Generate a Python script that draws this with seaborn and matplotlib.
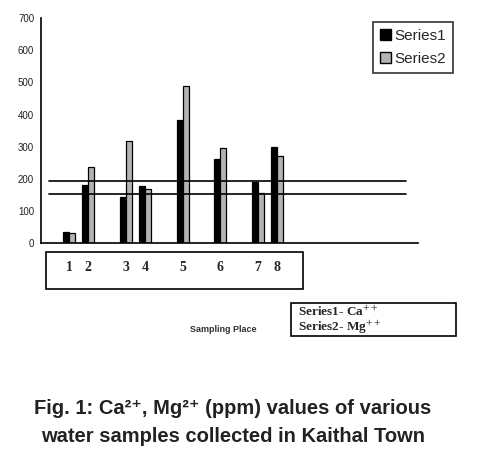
import numpy as np
import pandas as pd
import seaborn as sns
import matplotlib.pyplot as plt
import matplotlib.transforms as mtransforms
from matplotlib.patches import Patch, Rectangle

# slots along the x axis (20 category slots, data sits in a few of them)
n_slots = 20
slot_pos = [1, 2, 4, 5, 7, 9, 11, 12]
site_labels = ['1', '2', '3', '4', '5', '6', '7', '8']
series1 = [35, 180, 142, 178, 383, 261, 191, 298]   # Ca++
series2 = [30, 238, 318, 168, 490, 297, 157, 271]   # Mg++
limit_lines = [193, 152]

sns.set_style('white')
plt.rcParams['font.family'] = ['Liberation Sans', 'DejaVu Sans']
plt.rcParams['mathtext.fontset'] = 'stix'

df = pd.DataFrame({
    'slot': [str(p) for p in slot_pos] * 2,
    'value': series1 + series2,
    'serie': ['Series1'] * len(series1) + ['Series2'] * len(series2),
})

fig = plt.figure(figsize=(4.78, 4.55), dpi=100)
ax = fig.add_axes([0.086, 0.466, 0.789, 0.494])

sns.barplot(data=df, x='slot', y='value', hue='serie',
            order=[str(i) for i in range(n_slots)],
            palette={'Series1': '#000000', 'Series2': '#b3b3b3'},
            width=0.64, edgecolor='black', linewidth=0.9,
            legend=False, ax=ax)

# limit lines
for v in limit_lines:
    ax.axhline(v, xmin=0.02, xmax=0.968, color='black', lw=1.2)

ax.set_xlim(-0.5, n_slots - 0.5)
ax.set_ylim(0, 700)
ax.set_yticks(range(0, 701, 100))
ax.set_xticks(np.arange(-0.5, n_slots, 1))
ax.set_xticklabels([])
ax.set_xlabel('')
ax.set_ylabel('')
ax.tick_params(axis='both', direction='out', length=3, width=1, color='black')
ax.tick_params(axis='y', labelsize=7, pad=2, labelcolor='#222222')
for s in ['top', 'right']:
    ax.spines[s].set_visible(False)
for s in ['left', 'bottom']:
    ax.spines[s].set_color('black')
    ax.spines[s].set_linewidth(1.2)

# site numbers in a box under the axis
trans = mtransforms.blended_transform_factory(ax.transData, ax.transAxes)
for p, lab in zip(slot_pos, site_labels):
    ax.text(p, -0.111, lab, transform=trans, ha='center', va='center',
            fontsize=10, fontweight='bold', family='Liberation Serif')
fig.patches.append(Rectangle((46 / 478, 1 - 289 / 455), 257 / 478, 37 / 455,
                             transform=fig.transFigure, fill=False,
                             edgecolor='black', lw=1.2))

# legend
handles = [Patch(facecolor='#000000', edgecolor='black', label='Series1'),
           Patch(facecolor='#b3b3b3', edgecolor='black', label='Series2')]
leg = fig.legend(handles=handles, loc='upper left',
                 bbox_to_anchor=(373 / 478, 1 - 22 / 455),
                 frameon=True, fancybox=False, fontsize=11,
                 handlelength=0.7, handleheight=0.7, handletextpad=0.25,
                 borderpad=0.45, labelspacing=0.6, borderaxespad=0)
leg.get_frame().set_edgecolor('black')
leg.get_frame().set_linewidth(1.2)

# x label and series description box
fig.text(223 / 478, 1 - 329 / 455, 'Sampling Place', fontsize=6.5,
         fontweight='bold', ha='center', va='center', color='#333333')
fig.patches.append(Rectangle((291 / 478, 1 - 336 / 455), 165 / 478, 33 / 455,
                             transform=fig.transFigure, fill=False,
                             edgecolor='black', lw=1.2))
fig.text(298 / 478, 1 - 312 / 455, 'Series1- Ca$^{++}$', fontsize=9.5,
         fontweight='bold', family='Liberation Serif', ha='left', va='center')
fig.text(298 / 478, 1 - 327 / 455, 'Series2- Mg$^{++}$', fontsize=9.5,
         fontweight='bold', family='Liberation Serif', ha='left', va='center')

# caption
fig.text(233 / 478, 1 - 408 / 455, 'Fig. 1: Ca²⁺, Mg²⁺ (ppm) values of various',
         fontsize=14.5, fontweight='bold', color='#222222', ha='center', va='center')
fig.text(233 / 478, 1 - 437 / 455, 'water samples collected in Kaithal Town',
         fontsize=14.5, fontweight='bold', color='#222222', ha='center', va='center')

plt.savefig('out.png', dpi=100)
